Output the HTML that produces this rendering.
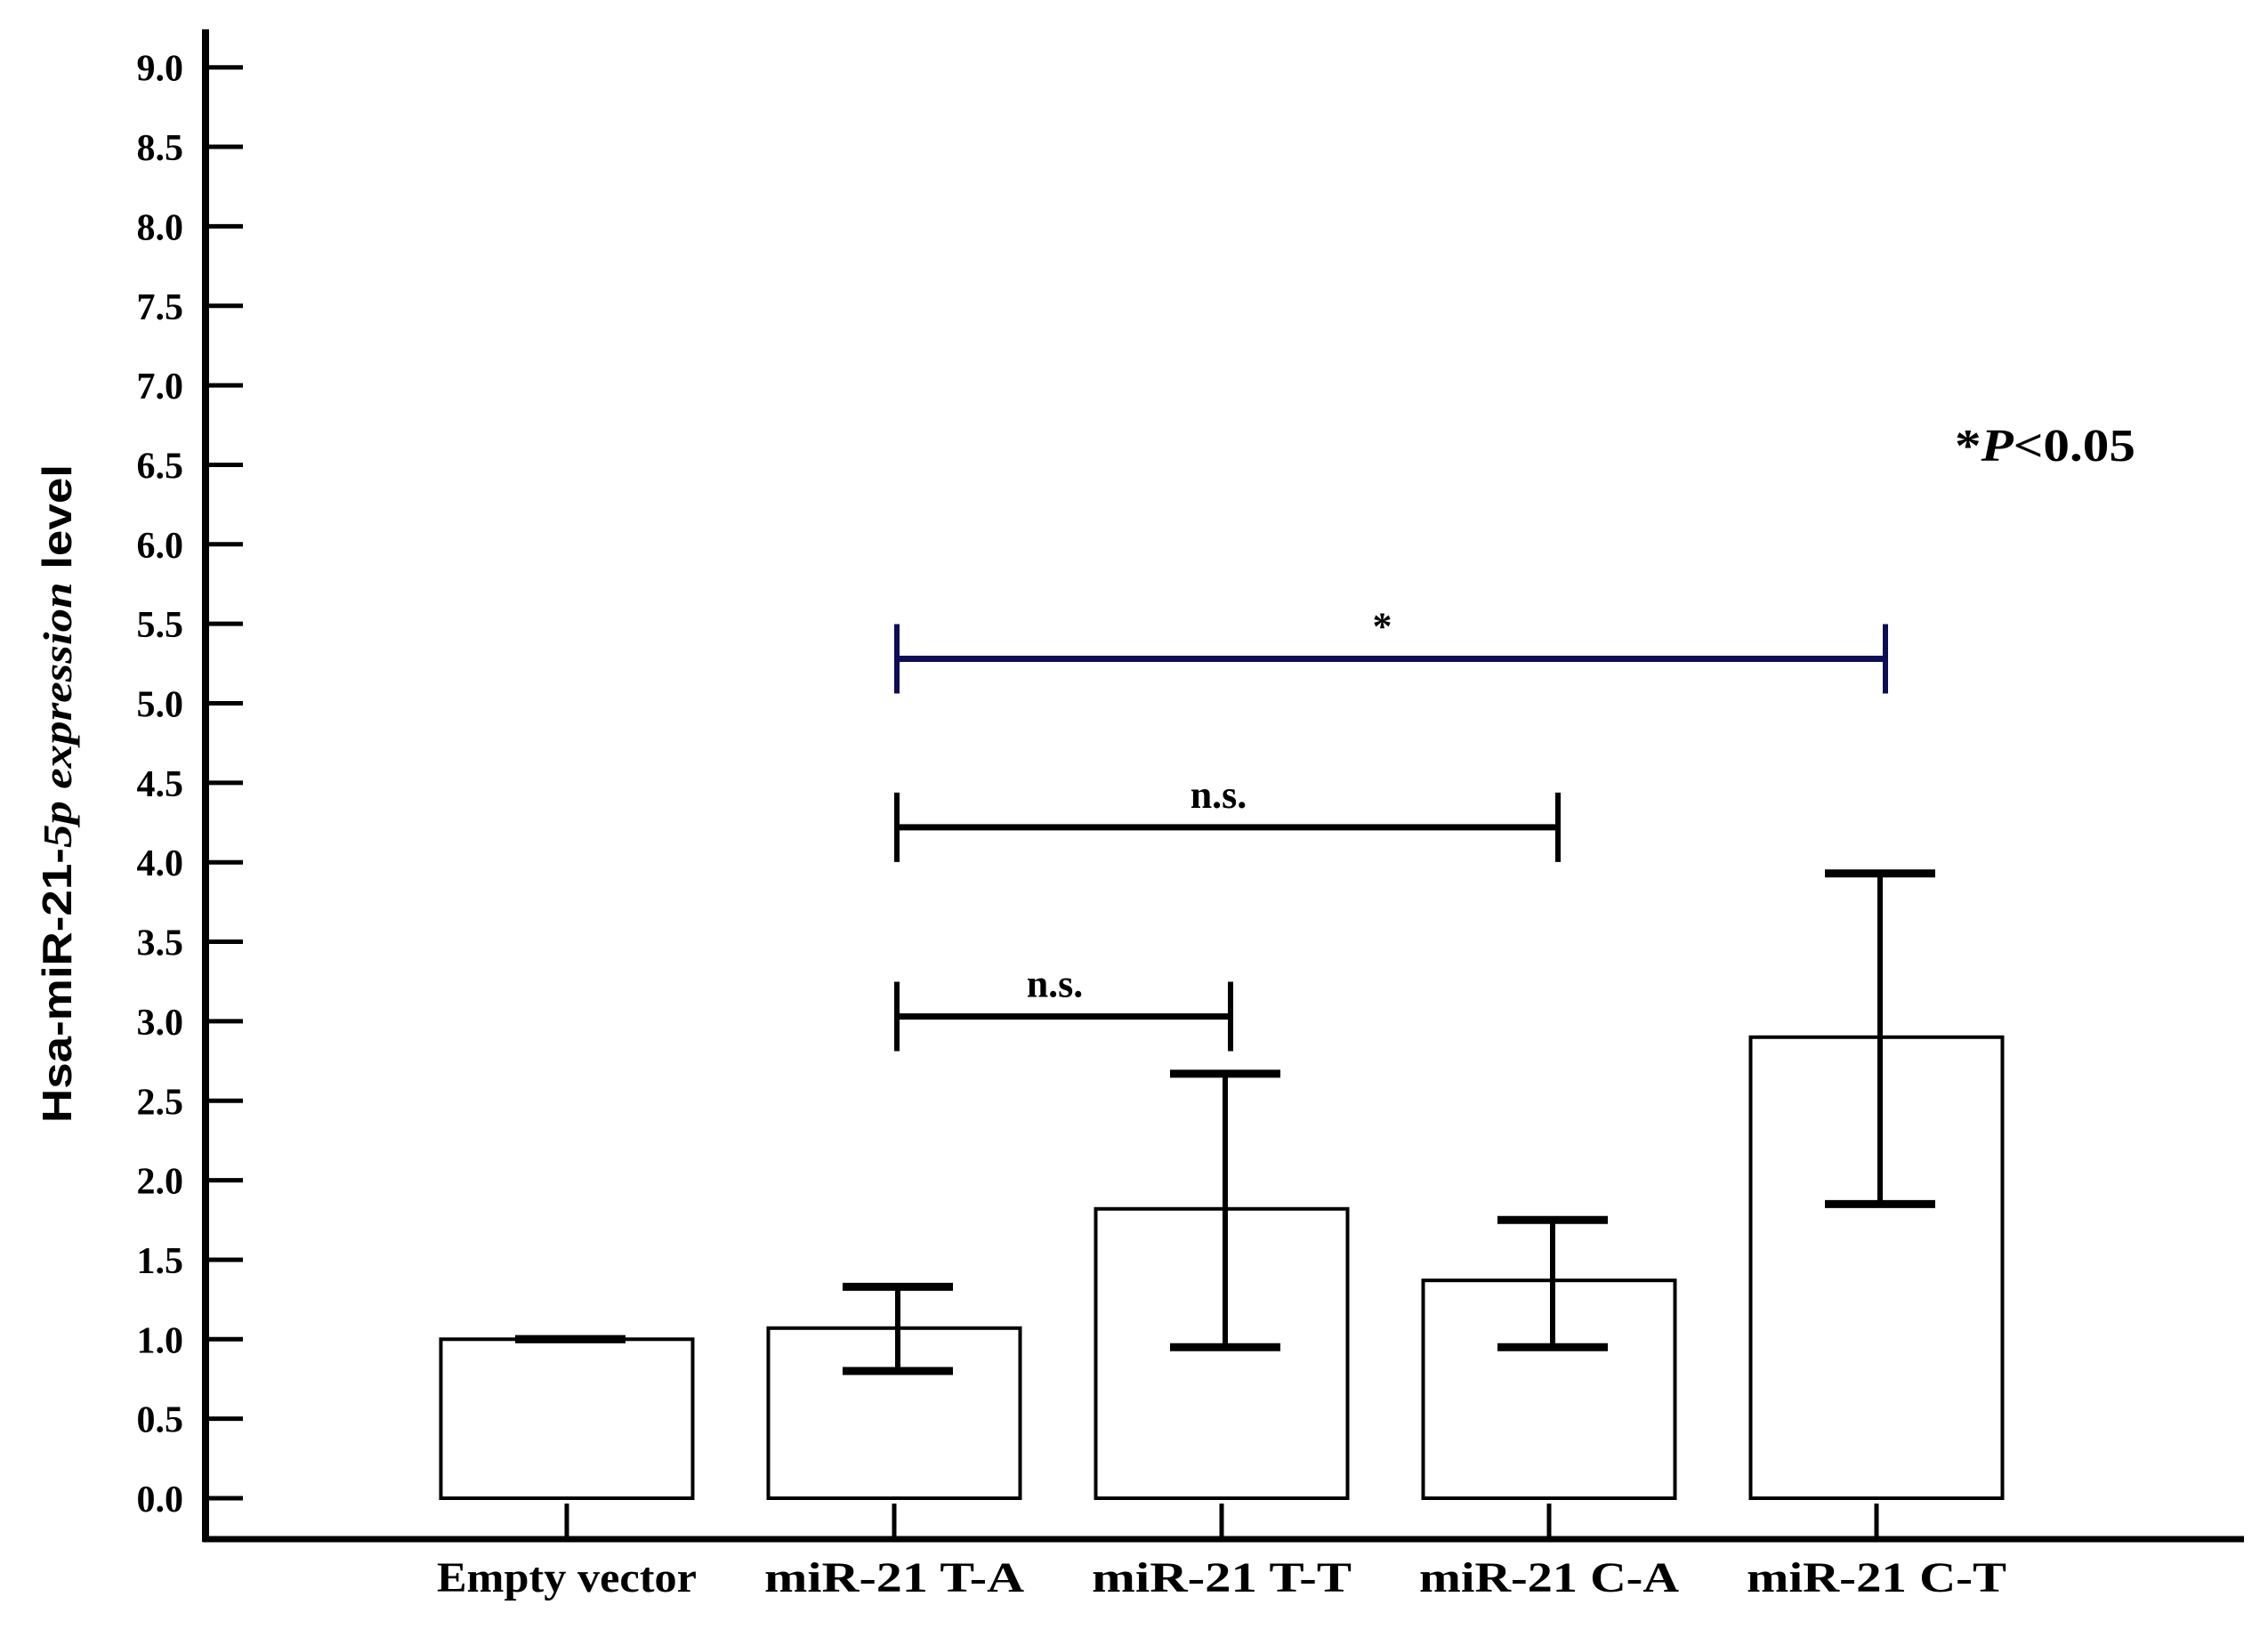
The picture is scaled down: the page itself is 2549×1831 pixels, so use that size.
<!DOCTYPE html>
<html><head><meta charset="utf-8"><style>
html,body{margin:0;padding:0;background:#fff;}
svg{display:block;}
text{font-family:"Liberation Serif",serif;font-weight:bold;fill:#000;}
</style></head><body>
<svg id="chart" width="2549" height="1831" viewBox="0 0 2549 1831" xmlns="http://www.w3.org/2000/svg">
<rect x="0" y="0" width="2549" height="1831" fill="#fff"/>
<g id="axes"></g>
<g id="bars"></g>
<g id="sig"></g>
<text transform="translate(80,892) rotate(-90)" text-anchor="middle" font-size="46" textLength="740" lengthAdjust="spacingAndGlyphs" style="font-family:'Liberation Sans',sans-serif">Hsa-miR-21-<tspan font-style="italic" style="font-family:'Liberation Serif',serif">5p expression</tspan> level</text>
<text x="2197" y="518" font-size="52" textLength="203" lengthAdjust="spacingAndGlyphs">*<tspan font-style="italic">P</tspan>&lt;0.05</text>
</svg>
<script>
const categories = ["Empty vector", "miR-21 T-A", "miR-21 T-T", "miR-21 C-A", "miR-21 C-T"];
const means = [1.0, 1.07, 1.82, 1.37, 2.9];
const errLow = [1.0, 0.8, 0.95, 0.95, 1.85];
const errHigh = [1.0, 1.33, 2.67, 1.75, 3.93];
const yTicks = [0,0.5,1,1.5,2,2.5,3,3.5,4,4.5,5,5.5,6,6.5,7,7.5,8,8.5,9];
const yTickLabels = ["0.0","0.5","1.0","1.5","2.0","2.5","3.0","3.5","4.0","4.5","5.0","5.5","6.0","6.5","7.0","7.5","8.0","8.5","9.0"];
const brackets = [
  {from:1, to:4, level:5.28, label:"*", color:"#0d0d55"},
  {from:1, to:3, level:4.22, label:"n.s.", color:"#000"},
  {from:1, to:2, level:3.03, label:"n.s.", color:"#000"}
];
const NS="http://www.w3.org/2000/svg";
function y(v){return 1684 - v*178.7;}
function x(i){return 637 + i*368;}
function mk(tag, attrs, parent){const e=document.createElementNS(NS,tag);for(const k in attrs)e.setAttribute(k,attrs[k]);parent.appendChild(e);return e;}
const axes=document.getElementById('axes');
let el=mk('line',{x1:231,y1:33,x2:231,y2:1733,stroke:'#000','stroke-width':8},axes);


el=mk('line',{x1:228,y1:1730,x2:2522,y2:1730,stroke:'#000','stroke-width':7},axes);


yTicks.forEach((t,i)=>{
  const tk=mk('line',{x1:231,y1:y(t),x2:273,y2:y(t),stroke:'#000','stroke-width':5},axes);
  
  
  const lb=mk('text',{x:206,y:y(t)+15,'text-anchor':'end','font-size':42},axes);
  lb.textContent=yTickLabels[i];
  
  
});
const bars=document.getElementById('bars');
categories.forEach((c,i)=>{
  const cx=x(i), w=283;
  const r=mk('rect',{x:cx-w/2,y:y(means[i]),width:w,height:y(0)-y(means[i]),fill:'#fff',stroke:'#000','stroke-width':4},bars);
  
  
  const e=mk('line',{x1:cx+4,y1:y(errHigh[i]),x2:cx+4,y2:y(errLow[i]),stroke:'#000','stroke-width':6},bars);
  
  
  [errHigh[i],errLow[i]].forEach(v=>{
    const cap=mk('line',{x1:cx+4-62,y1:y(v),x2:cx+4+62,y2:y(v),stroke:'#000','stroke-width':9},bars);
    
    
  });
  const xt=mk('line',{x1:cx,y1:1690,x2:cx,y2:1728,stroke:'#000','stroke-width':5},bars);
  
  
  const lb=mk('text',{x:cx,y:1789,'text-anchor':'middle','font-size':48,textLength:292,lengthAdjust:'spacingAndGlyphs'},bars);
  lb.textContent=c;
  
  
});
const sig=document.getElementById('sig');
brackets.forEach(b=>{
  const x1=x(b.from)+3, x2=x(b.to)+10, yy=y(b.level);
  const g=mk('g',{},sig);
  
  
  mk('line',{x1:x1,y1:yy,x2:x2,y2:yy,stroke:b.color,'stroke-width':7},g);
  mk('line',{x1:x1,y1:yy-39,x2:x1,y2:yy+39,stroke:b.color,'stroke-width':6},g);
  mk('line',{x1:x2,y1:yy-39,x2:x2,y2:yy+39,stroke:b.color,'stroke-width':6},g);
  const t=mk('text',{x:(x1+x2)/2-10,y:yy-22,'text-anchor':'middle','font-size':44},g);
  t.textContent=b.label;
  
  
});
</script>
</body></html>
